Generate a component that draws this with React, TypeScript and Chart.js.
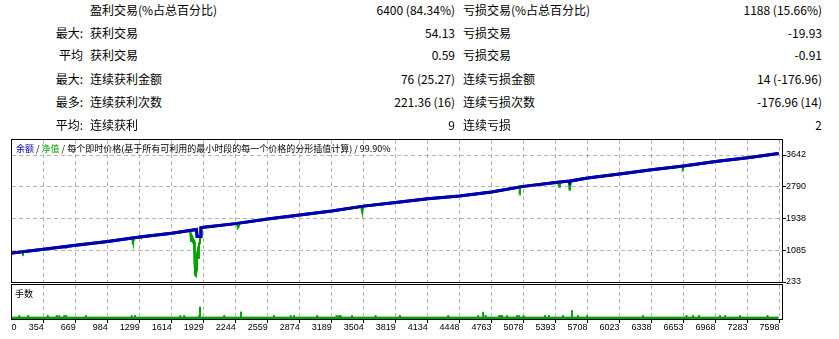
import React, { useEffect, useRef } from 'react';
import { Chart, registerables } from 'chart.js';

Chart.register(...registerables);

// ---------- statistics table ----------
const rowPrefixes = ['', '最大:', '平均', '最大:', '最多:', '平均:'];
const winLabels = ['盈利交易(%占总百分比)', '获利交易', '获利交易', '连续获利金额', '连续获利次数', '连续获利'];
const winValues = ['6400 (84.34%)', '54.13', '0.59', '76 (25.27)', '221.36 (16)', '9'];
const lossLabels = ['亏损交易(%占总百分比)', '亏损交易', '亏损交易', '连续亏损金额', '连续亏损次数', '连续亏损'];
const lossValues = ['1188 (15.66%)', '-19.93', '-0.91', '14 (-176.96)', '-176.96 (14)', '2'];

// ---------- chart title ----------
const titleBalance = '余额';
const titleEquity = '净值';
const titleRest = ' / 每个即时价格(基于所有可利用的最小时段的每一个价格的分形插值计算) / 99.90%';
const lotsTitle = '手数';

// ---------- axes ----------
const xTickValues = [86, 354, 669, 984, 1299, 1614, 1929, 2244, 2559, 2874, 3189, 3504, 3819, 4134, 4448, 4763, 5078, 5393, 5708, 6023, 6338, 6653, 6968, 7283, 7598];
const xTickLabels = ['0', '354', '669', '984', '1299', '1614', '1929', '2244', '2559', '2874', '3189', '3504', '3819', '4134', '4448', '4763', '5078', '5393', '5708', '6023', '6338', '6653', '6968', '7283', '7598'];
const xMin = 42;
const xMax = 7622;
const yTickValues = [233, 1085.25, 1937.5, 2789.75, 3642];
const yTickLabels = ['233', '1085', '1938', '2790', '3642'];
const yMin = 233;
const yMax = 4045;

// ---------- balance (余额) ----------
const balanceTrades = [0, 354, 669, 984, 1299, 1614, 1858, 1864, 1896, 1902, 1929, 2244, 2559, 2874, 3189, 3504, 3819, 4134, 4448, 4763, 5078, 5393, 5525, 5533, 5541, 5708, 6023, 6338, 6653, 6968, 7283, 7588];
const balanceValues = [1000, 1115, 1220, 1320, 1440, 1540, 1645, 1460, 1455, 1690, 1700, 1800, 1925, 2030, 2140, 2270, 2370, 2470, 2540, 2650, 2800, 2905, 2944, 2900, 2946, 3025, 3130, 3245, 3350, 3465, 3570, 3680];

// ---------- equity (净值) ----------
const equityTrades = [0, 145, 150, 156, 354, 560, 566, 572, 669, 984, 1225, 1232, 1240, 1246, 1299, 1310, 1316, 1322, 1614, 1790, 1800, 1805, 1812, 1820, 1828, 1835, 1840, 1846, 1852, 1858, 1862, 1868, 1874, 1880, 1886, 1892, 1898, 1902, 1929, 2244, 2260, 2266, 2272, 2278, 2559, 2874, 3189, 3480, 3486, 3495, 3502, 3819, 4134, 4448, 4763, 5035, 5041, 5047, 5078, 5393, 5420, 5428, 5434, 5525, 5533, 5541, 5708, 6023, 6338, 6640, 6646, 6652, 6968, 7283, 7588];
const equityValues = [1000, 1047, 1022, 1051, 1115, 1183, 1160, 1185, 1220, 1320, 1414, 1330, 1360, 1417, 1440, 1443, 1420, 1447, 1540, 1615, 1545, 1340, 1470, 1420, 1300, 1320, 760, 420, 405, 560, 900, 1010, 880, 1150, 1280, 1380, 1455, 1690, 1700, 1800, 1806, 1700, 1720, 1810, 1925, 2030, 2140, 2262, 2185, 2200, 2268, 2370, 2470, 2540, 2650, 2790, 2730, 2792, 2800, 2905, 2914, 2800, 2916, 2944, 2690, 2946, 3025, 3130, 3245, 3346, 3310, 3350, 3465, 3570, 3680];

// ---------- lots (手数) ----------
const baseLotTrades = [0, 7588];
const baseLot = 0.01;
const lotTrades = [114, 203, 394, 482, 508, 557, 577, 768, 1220, 1253, 1699, 1738, 1886, 1893, 2132, 2296, 2621, 2785, 2820, 3047, 3237, 3263, 3277, 3391, 3621, 3860, 4337, 4632, 4681, 4704, 4838, 4855, 4868, 4917, 5015, 5035, 5078, 5290, 5330, 5467, 5556, 5615, 5704, 6255, 6682, 6747, 6806, 7012, 7062, 7209, 7479];
const lotValues = [0.02, 0.02, 0.02, 0.02, 0.02, 0.02, 0.02, 0.02, 0.02, 0.02, 0.02, 0.02, 0.02, 0.07, 0.02, 0.04, 0.02, 0.02, 0.02, 0.02, 0.02, 0.02, 0.02, 0.02, 0.02, 0.02, 0.02, 0.02, 0.04, 0.02, 0.02, 0.02, 0.02, 0.02, 0.02, 0.02, 0.02, 0.02, 0.02, 0.02, 0.05, 0.02, 0.02, 0.02, 0.02, 0.02, 0.02, 0.02, 0.02, 0.02, 0.02];

// ---------- styles ----------
const BLUE = '#0000b0';
const GREEN = '#00a000';
const GRID = '#b4b4b4';
const TICK_FONT = { family: "'Liberation Sans', 'DejaVu Sans', sans-serif", size: 9 };
const CJK = "'Noto Sans CJK SC', 'Noto Sans', sans-serif";
const NONE = 'rgba(0,0,0,0)';

const align = (p: number) => Math.round(p - 0.5) + 0.5;

// Grid, tick marks, datasets on top, then the frame — all from the chart's own scales.
const makeOverlayPlugin = (id: string, horizontal: boolean, xMarks: boolean, yMarks: boolean, gridBottomValue: number | null) => ({
  id,
  afterDatasetsDraw(chart: any) {
    const { ctx, chartArea: a, scales } = chart;
    const xs = scales.x;
    const ys = scales.y;
    ctx.save();
    ctx.lineWidth = 1;
    const vBottom = gridBottomValue === null ? a.bottom : Math.min(a.bottom, ys.getPixelForValue(gridBottomValue) - 1);
    xs.ticks.forEach((t: any, i: number) => {
      const px = align(xs.getPixelForValue(t.value));
      if (i > 0) {
        ctx.strokeStyle = GRID;
        ctx.setLineDash([4, 3]);
        ctx.beginPath();
        ctx.moveTo(px, a.top);
        ctx.lineTo(px, vBottom);
        ctx.stroke();
        if (xMarks) {
          ctx.setLineDash([]);
          ctx.strokeStyle = '#000';
          ctx.beginPath();
          ctx.moveTo(px, a.bottom + 1);
          ctx.lineTo(px, a.bottom + 4);
          ctx.stroke();
        }
      }
    });
    if (horizontal) {
      ys.ticks.forEach((t: any, i: number) => {
        const py = align(ys.getPixelForValue(t.value));
        if (i > 0) {
          ctx.strokeStyle = GRID;
          ctx.setLineDash([4, 3]);
          ctx.beginPath();
          ctx.moveTo(a.left, py);
          ctx.lineTo(a.right, py);
          ctx.stroke();
        }
        if (yMarks) {
          ctx.setLineDash([]);
          ctx.strokeStyle = '#000';
          ctx.beginPath();
          ctx.moveTo(a.right + 1, py);
          ctx.lineTo(a.right + 4, py);
          ctx.stroke();
        }
      });
    }
    ctx.restore();

    // datasets again, above the grid, clipped to the plot area
    ctx.save();
    ctx.beginPath();
    ctx.rect(a.left, a.top, a.right - a.left, a.bottom - a.top);
    ctx.clip();
    const metas = chart.getSortedVisibleDatasetMetas();
    for (let i = metas.length - 1; i >= 0; --i) {
      metas[i].controller.draw();
    }
    ctx.restore();

    // frame
    ctx.save();
    ctx.strokeStyle = '#000';
    ctx.lineWidth = 1;
    ctx.setLineDash([]);
    ctx.strokeRect(a.left - 0.5, a.top - 0.5, a.right - a.left + 1, a.bottom - a.top + 1);
    ctx.restore();
  },
});

function MainChart() {
  const ref = useRef<HTMLCanvasElement>(null);
  useEffect(() => {
    const chart = new Chart(ref.current as HTMLCanvasElement, {
      type: 'line',
      data: {
        datasets: [
          {
            label: titleBalance,
            data: balanceTrades.map((t, i) => ({ x: t, y: balanceValues[i] })),
            borderColor: BLUE,
            borderWidth: 3,
            pointRadius: 0,
            tension: 0,
          },
          {
            label: titleEquity,
            data: equityTrades.map((t, i) => ({ x: t, y: equityValues[i] })),
            borderColor: GREEN,
            borderWidth: 2,
            pointRadius: 0,
            tension: 0,
          },
        ],
      },
      options: {
        animation: false,
        responsive: false,
        layout: { padding: { left: 12, top: 10, right: 0, bottom: 13 } },
        plugins: { legend: { display: false }, tooltip: { enabled: false }, title: { display: false } },
        scales: {
          x: {
            type: 'linear',
            min: xMin,
            max: xMax,
            afterBuildTicks: (s: any) => {
              s.ticks = xTickValues.map((v) => ({ value: v }));
            },
            ticks: { display: false },
            grid: { drawOnChartArea: false, drawTicks: false },
            border: { display: false },
            afterFit: (s: any) => {
              s.height = 0;
            },
          },
          y: {
            position: 'right',
            min: yMin,
            max: yMax,
            afterBuildTicks: (s: any) => {
              s.ticks = yTickValues.map((v) => ({ value: v }));
            },
            ticks: {
              callback: (_v: any, i: number) => yTickLabels[i],
              font: TICK_FONT,
              color: '#000',
              padding: 1,
            },
            grid: { drawOnChartArea: false, tickColor: NONE, tickLength: 3 },
            border: { display: false },
            afterFit: (s: any) => {
              s.width = 57;
            },
          },
        },
      } as any,
      plugins: [makeOverlayPlugin('mainOverlay', true, false, true, null)],
    });
    return () => chart.destroy();
  }, []);
  return <canvas ref={ref} width={839} height={165} style={{ position: 'absolute', left: 0, top: 130 }} />;
}

function LotChart() {
  const ref = useRef<HTMLCanvasElement>(null);
  useEffect(() => {
    const chart = new Chart(ref.current as HTMLCanvasElement, {
      type: 'bar',
      data: {
        datasets: [
          {
            type: 'bar',
            label: lotsTitle,
            data: lotTrades.map((t, i) => ({ x: t, y: lotValues[i] })),
            backgroundColor: GREEN,
            barThickness: 1,
            grouped: false,
          } as any,
          {
            type: 'line',
            label: lotsTitle,
            data: baseLotTrades.map((t) => ({ x: t, y: baseLot })),
            borderColor: GREEN,
            borderWidth: 1,
            backgroundColor: GREEN,
            fill: 'origin',
            pointRadius: 0,
          } as any,
        ],
      },
      options: {
        animation: false,
        responsive: false,
        layout: { padding: { left: 12, top: 5, right: 0, bottom: 0 } },
        plugins: { legend: { display: false }, tooltip: { enabled: false }, title: { display: false } },
        scales: {
          x: {
            type: 'linear',
            offset: false,
            min: xMin,
            max: xMax,
            afterBuildTicks: (s: any) => {
              s.ticks = xTickValues.map((v) => ({ value: v }));
            },
            ticks: {
              callback: (_v: any, i: number) => xTickLabels[i],
              align: 'end',
              font: TICK_FONT,
              color: '#000',
              padding: 0,
              maxRotation: 0,
              autoSkip: false,
            },
            grid: { offset: false, drawOnChartArea: false, tickColor: NONE, tickLength: 3 },
            border: { display: false },
            afterFit: (s: any) => {
              s.height = 20;
            },
          },
          y: {
            position: 'right',
            min: 0,
            max: 0.2,
            ticks: { display: false },
            grid: { display: false },
            border: { display: false },
            afterFit: (s: any) => {
              s.width = 57;
            },
          },
        },
      } as any,
      plugins: [makeOverlayPlugin('lotOverlay', false, true, false, baseLot)],
    });
    return () => chart.destroy();
  }, []);
  return <canvas ref={ref} width={839} height={59} style={{ position: 'absolute', left: 0, top: 280 }} />;
}

export default function App() {
  const rowY = [10, 33, 55, 79, 102, 125];
  const cell = (extra: React.CSSProperties): React.CSSProperties => ({
    position: 'absolute',
    fontFamily: CJK,
    fontSize: 12,
    lineHeight: '16px',
    color: '#000',
    whiteSpace: 'nowrap',
    ...extra,
  });

  return (
    <div style={{ position: 'absolute', left: 0, top: 0, width: 839, height: 339, background: '#fff' }}>
      <MainChart />
      <LotChart />
      {rowY.map((y, i) => (
        <React.Fragment key={i}>
          <div style={cell({ top: y - 8, right: 839 - 83, textAlign: 'right' })}>{rowPrefixes[i]}</div>
          <div style={cell({ top: y - 8, left: 90 })}>{winLabels[i]}</div>
          <div style={cell({ top: y - 8, right: 839 - 455, textAlign: 'right' })}>{winValues[i]}</div>
          <div style={cell({ top: y - 8, left: 463 })}>{lossLabels[i]}</div>
          <div style={cell({ top: y - 8, right: 839 - 822, textAlign: 'right' })}>{lossValues[i]}</div>
        </React.Fragment>
      ))}
      <div style={{ position: 'absolute', left: 16, top: 143, fontFamily: CJK, fontSize: 9, lineHeight: '12px', color: '#000', whiteSpace: 'nowrap' }}>
        <span style={{ color: BLUE }}>{titleBalance}</span>
        <span> / </span>
        <span style={{ color: GREEN }}>{titleEquity}</span>
        <span>{titleRest}</span>
      </div>
      <div style={{ position: 'absolute', left: 15, top: 288, fontFamily: CJK, fontSize: 9, lineHeight: '12px', color: '#000', whiteSpace: 'nowrap' }}>
        {lotsTitle}
      </div>
    </div>
  );
}
